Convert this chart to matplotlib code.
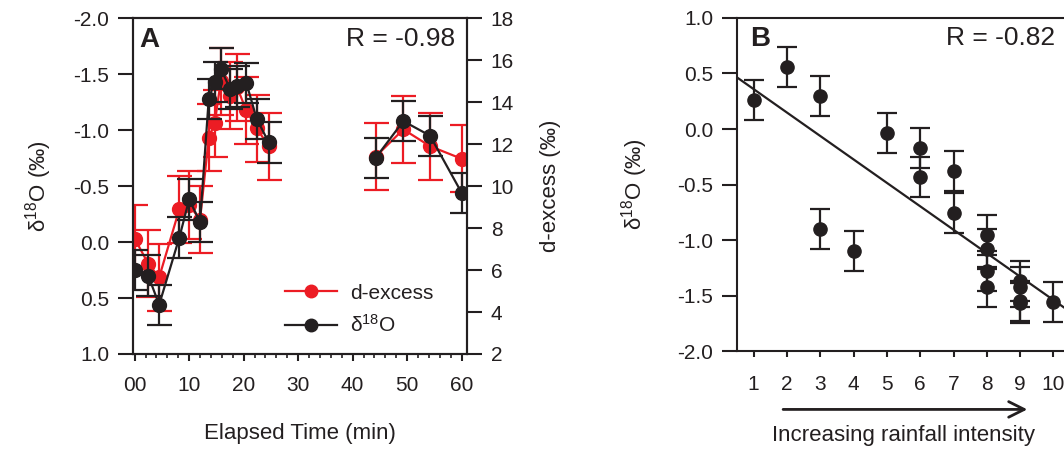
import matplotlib
matplotlib.use('Agg')
import matplotlib.pyplot as plt
from matplotlib.ticker import MultipleLocator, FixedLocator, FormatStrFormatter
import numpy as np

plt.rcParams['font.family'] = ['Liberation Sans', 'DejaVu Sans']
plt.rcParams['mathtext.fontset'] = 'custom'
plt.rcParams['mathtext.rm'] = 'Liberation Sans'
plt.rcParams['mathtext.it'] = 'Liberation Sans:italic'
plt.rcParams['axes.unicode_minus'] = False

INK = '#231f20'
RED = '#ec1c24'
TICK_FS = 15
LABEL_FS = 16

# panel A: isotope time series during the event
time_min = [0, 2.5, 4.5, 8.2, 10, 12, 13.6, 14.7, 15.8, 17.5, 18.8, 20.5, 22.4, 24.6,
            44.2, 49.3, 54.2, 60.0]
d18o = [0.25, 0.30, 0.56, -0.04, -0.38, -0.18, -1.28, -1.43, -1.55, -1.37, -1.39, -1.42,
        -1.10, -0.89, -0.75, -1.08, -0.95, -0.44]
d18o_err = 0.18
dexcess = [7.5, 6.3, 5.65, 8.9, 9.1, 8.4, 12.3, 13.0, 15.0, 14.3, 14.7, 13.6, 12.75, 11.9,
           11.4, 12.7, 11.9, 11.3]
dexcess_err = 1.6
segments = [slice(0, 14), slice(14, 18)]   # no samples between 25 and 44 min
r_a = '-0.98'

# panel B: isotope vs. rainfall intensity class
intensity = [1, 2, 3, 3, 4, 5, 6, 6, 7, 7, 8, 8, 8, 8, 9, 9, 9, 9, 10]
d18o_b = [0.26, 0.56, 0.30, -0.90, -1.10, -0.04, -0.17, -0.43, -0.38, -0.76,
          -0.95, -1.08, -1.28, -1.42, -1.37, -1.42, -1.55, -1.57, -1.56]
d18o_b_err = 0.18
fit_intercept = 0.57
fit_slope = -0.211
r_b = '-0.82'

fig = plt.figure(figsize=(10.64, 4.49), dpi=100)

def style_axes(ax):
    for s in ax.spines.values():
        s.set_linewidth(1.5)
        s.set_color(INK)
    ax.tick_params(colors=INK, labelsize=TICK_FS, width=1.5)

# ---- A ----
ax = fig.add_axes([0.125, 0.2116, 0.314, 0.748])
ax2 = ax.twinx()
ax.set_zorder(ax2.get_zorder() + 1)
ax.patch.set_visible(False)

t = np.array(time_min)
for seg in segments:
    ax2.errorbar(t[seg], np.array(dexcess)[seg], yerr=dexcess_err, fmt='-o', color=RED,
                 ms=10, lw=1.6, elinewidth=1.6, capsize=9, capthick=1.6)
    ax.errorbar(t[seg], np.array(d18o)[seg], yerr=d18o_err, fmt='-o', color=INK,
                ms=10, lw=1.6, elinewidth=1.6, capsize=9, capthick=1.6)

ax.set_xlim(-0.3, 61)
ax.set_ylim(1.0, -2.0)
ax2.set_ylim(2, 18)
ax.yaxis.set_major_locator(MultipleLocator(0.5))
ax.yaxis.set_major_formatter(FormatStrFormatter('%.1f'))
ax2.yaxis.set_major_locator(MultipleLocator(2))
ax.set_xticks([0, 10, 20, 30, 40, 50, 60])
ax.set_xticklabels(['00', '10', '20', '30', '40', '50', '60'])
ax.xaxis.set_minor_locator(MultipleLocator(2))
for a in (ax, ax2):
    style_axes(a)
ax.tick_params(axis='y', length=11, pad=6)
ax2.tick_params(axis='y', length=11, pad=6)
ax.tick_params(axis='x', which='major', length=5, pad=11)
ax.tick_params(axis='x', which='minor', length=3, width=1.2, colors=INK)

ax.set_xlabel('Elapsed Time (min)', fontsize=LABEL_FS, color=INK, labelpad=20)
ax.set_ylabel('δ$^{18}$O (‰)', fontsize=LABEL_FS, color=INK, labelpad=14)
ax2.set_ylabel('d-excess (‰)', fontsize=LABEL_FS, color=INK, labelpad=19)
ax.text(0.02, 0.975, 'A', transform=ax.transAxes, fontsize=20, fontweight='bold',
        color=INK, va='top', ha='left')
ax.text(0.965, 0.975, f'R = {r_a}', transform=ax.transAxes, fontsize=19, color=INK,
        va='top', ha='right')

h_red = plt.Line2D([], [], color=RED, marker='o', ms=9, lw=1.6)
h_blk = plt.Line2D([], [], color=INK, marker='o', ms=9, lw=1.6)
leg = ax.legend([h_red, h_blk], ['d-excess', 'δ$^{18}$O'], loc='upper left',
                bbox_to_anchor=(0.40, 0.265), frameon=False, fontsize=15,
                handlelength=2.5, labelspacing=0.55, handletextpad=0.6)
for txt in leg.get_texts():
    txt.set_color(INK)

# ---- B ----
bx = fig.add_axes([0.6927, 0.218, 0.313, 0.742])
bx.errorbar(intensity, d18o_b, yerr=d18o_b_err, fmt='o', color=INK, ms=9.5,
            elinewidth=1.6, capsize=7, capthick=1.6)
xl = np.array([0.5, 10.5])
bx.plot(xl, fit_intercept + fit_slope * xl, color=INK, lw=1.6)
bx.set_xlim(0.5, 10.5)
bx.set_ylim(-2.0, 1.0)
bx.yaxis.set_major_locator(MultipleLocator(0.5))
bx.yaxis.set_major_formatter(FormatStrFormatter('%.1f'))
bx.xaxis.set_major_locator(FixedLocator(range(1, 11)))
style_axes(bx)
bx.tick_params(axis='y', length=11, pad=6)
bx.tick_params(axis='x', length=4, pad=13)
bx.set_ylabel('δ$^{18}$O (‰)', fontsize=LABEL_FS, color=INK, labelpad=20)
bx.text(0.04, 0.975, 'B', transform=bx.transAxes, fontsize=20, fontweight='bold',
        color=INK, va='top', ha='left')
bx.text(0.955, 0.975, f'R = {r_b}', transform=bx.transAxes, fontsize=19, color=INK,
        va='top', ha='right')
bx.annotate('', xy=(0.88, -0.175), xytext=(0.13, -0.175), xycoords='axes fraction',
            textcoords='axes fraction', annotation_clip=False,
            arrowprops=dict(arrowstyle='->', lw=2, color=INK, mutation_scale=28))
bx.text(0.5, -0.252, 'Increasing rainfall intensity', transform=bx.transAxes,
        fontsize=LABEL_FS, color=INK, ha='center', va='center')

fig.savefig('out.png', dpi=100)
